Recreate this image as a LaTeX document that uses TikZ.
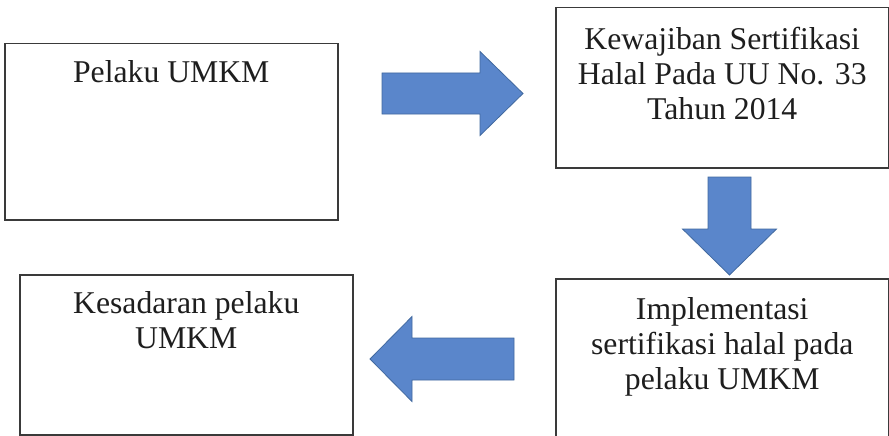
\documentclass[tikz,border=0pt]{standalone}
\usepackage{fontspec}
\setmainfont{Liberation Serif}
\usetikzlibrary{calc,positioning}
\definecolor{boxline}{HTML}{3A3A3A}
\definecolor{arrowfill}{HTML}{5A86CB}
\definecolor{arrowline}{HTML}{41699F}
\definecolor{textcol}{HTML}{1E1E1E}

\begin{document}
\begin{tikzpicture}[x=1pt,y=-1pt,
  box/.style={draw=boxline,line width=1.5pt,rectangle,anchor=north west,inner sep=0pt,minimum width=333pt},
  txt/.style={align=center,inner sep=0pt,text=textcol,font=\fontsize{31.7}{35}\selectfont},
  blockarrow/.style={fill=arrowfill,draw=arrowline,line width=0.8pt,line join=miter}]

  \clip (0,0) rectangle (889,436);
  \fill[white] (0,0) rectangle (889,436);

  \node[box,minimum height=176pt] (pelaku) at (4,43) {};
  \node[box,minimum height=160pt] (uu) at (555,7) {};
  \node[box,minimum height=160pt] (impl) at (555,278) {};
  \node[box,minimum height=160pt] (sadar) at (19,274) {};

  \node[txt,below=17.4pt of pelaku.north] (t1) {Pelaku UMKM};
  \node[txt,below=19.5pt of uu.north] (t2) {Kewajiban Sertifikasi\\Halal Pada UU No. 33\\Tahun 2014};
  \node[txt,below=19.5pt of impl.north] (t3) {Implementasi\\sertifikasi halal pada\\pelaku UMKM};
  \node[txt,below=17.4pt of sadar.north] (t4) {Kesadaran pelaku\\UMKM};

  % block arrows between the boxes
  \coordinate (a1) at (382,93.5);
  \coordinate (a1tip) at (523,93.5);
  \coordinate (a2) at (729.5,177);
  \coordinate (a2tip) at (729.5,275);
  \coordinate (a3) at (514,359);
  \coordinate (a3tip) at (370,359);

  \draw[blockarrow] ($(a1)+(0,-20.5)$) -- ($(a1tip)+(-43,-20.5)$) -- ($(a1tip)+(-43,-42)$) -- (a1tip)
    -- ($(a1tip)+(-43,42)$) -- ($(a1tip)+(-43,20.5)$) -- ($(a1)+(0,20.5)$) -- cycle;
  \draw[blockarrow] ($(a2)+(-21.5,0)$) -- ($(a2tip)+(-21.5,-46)$) -- ($(a2tip)+(-47,-46)$) -- (a2tip)
    -- ($(a2tip)+(47,-46)$) -- ($(a2tip)+(21.5,-46)$) -- ($(a2)+(21.5,0)$) -- cycle;
  \draw[blockarrow] ($(a3)+(0,-21)$) -- ($(a3tip)+(42,-21)$) -- ($(a3tip)+(42,-42.5)$) -- (a3tip)
    -- ($(a3tip)+(42,42.5)$) -- ($(a3tip)+(42,21)$) -- ($(a3)+(0,21)$) -- cycle;

\end{tikzpicture}
\end{document}
